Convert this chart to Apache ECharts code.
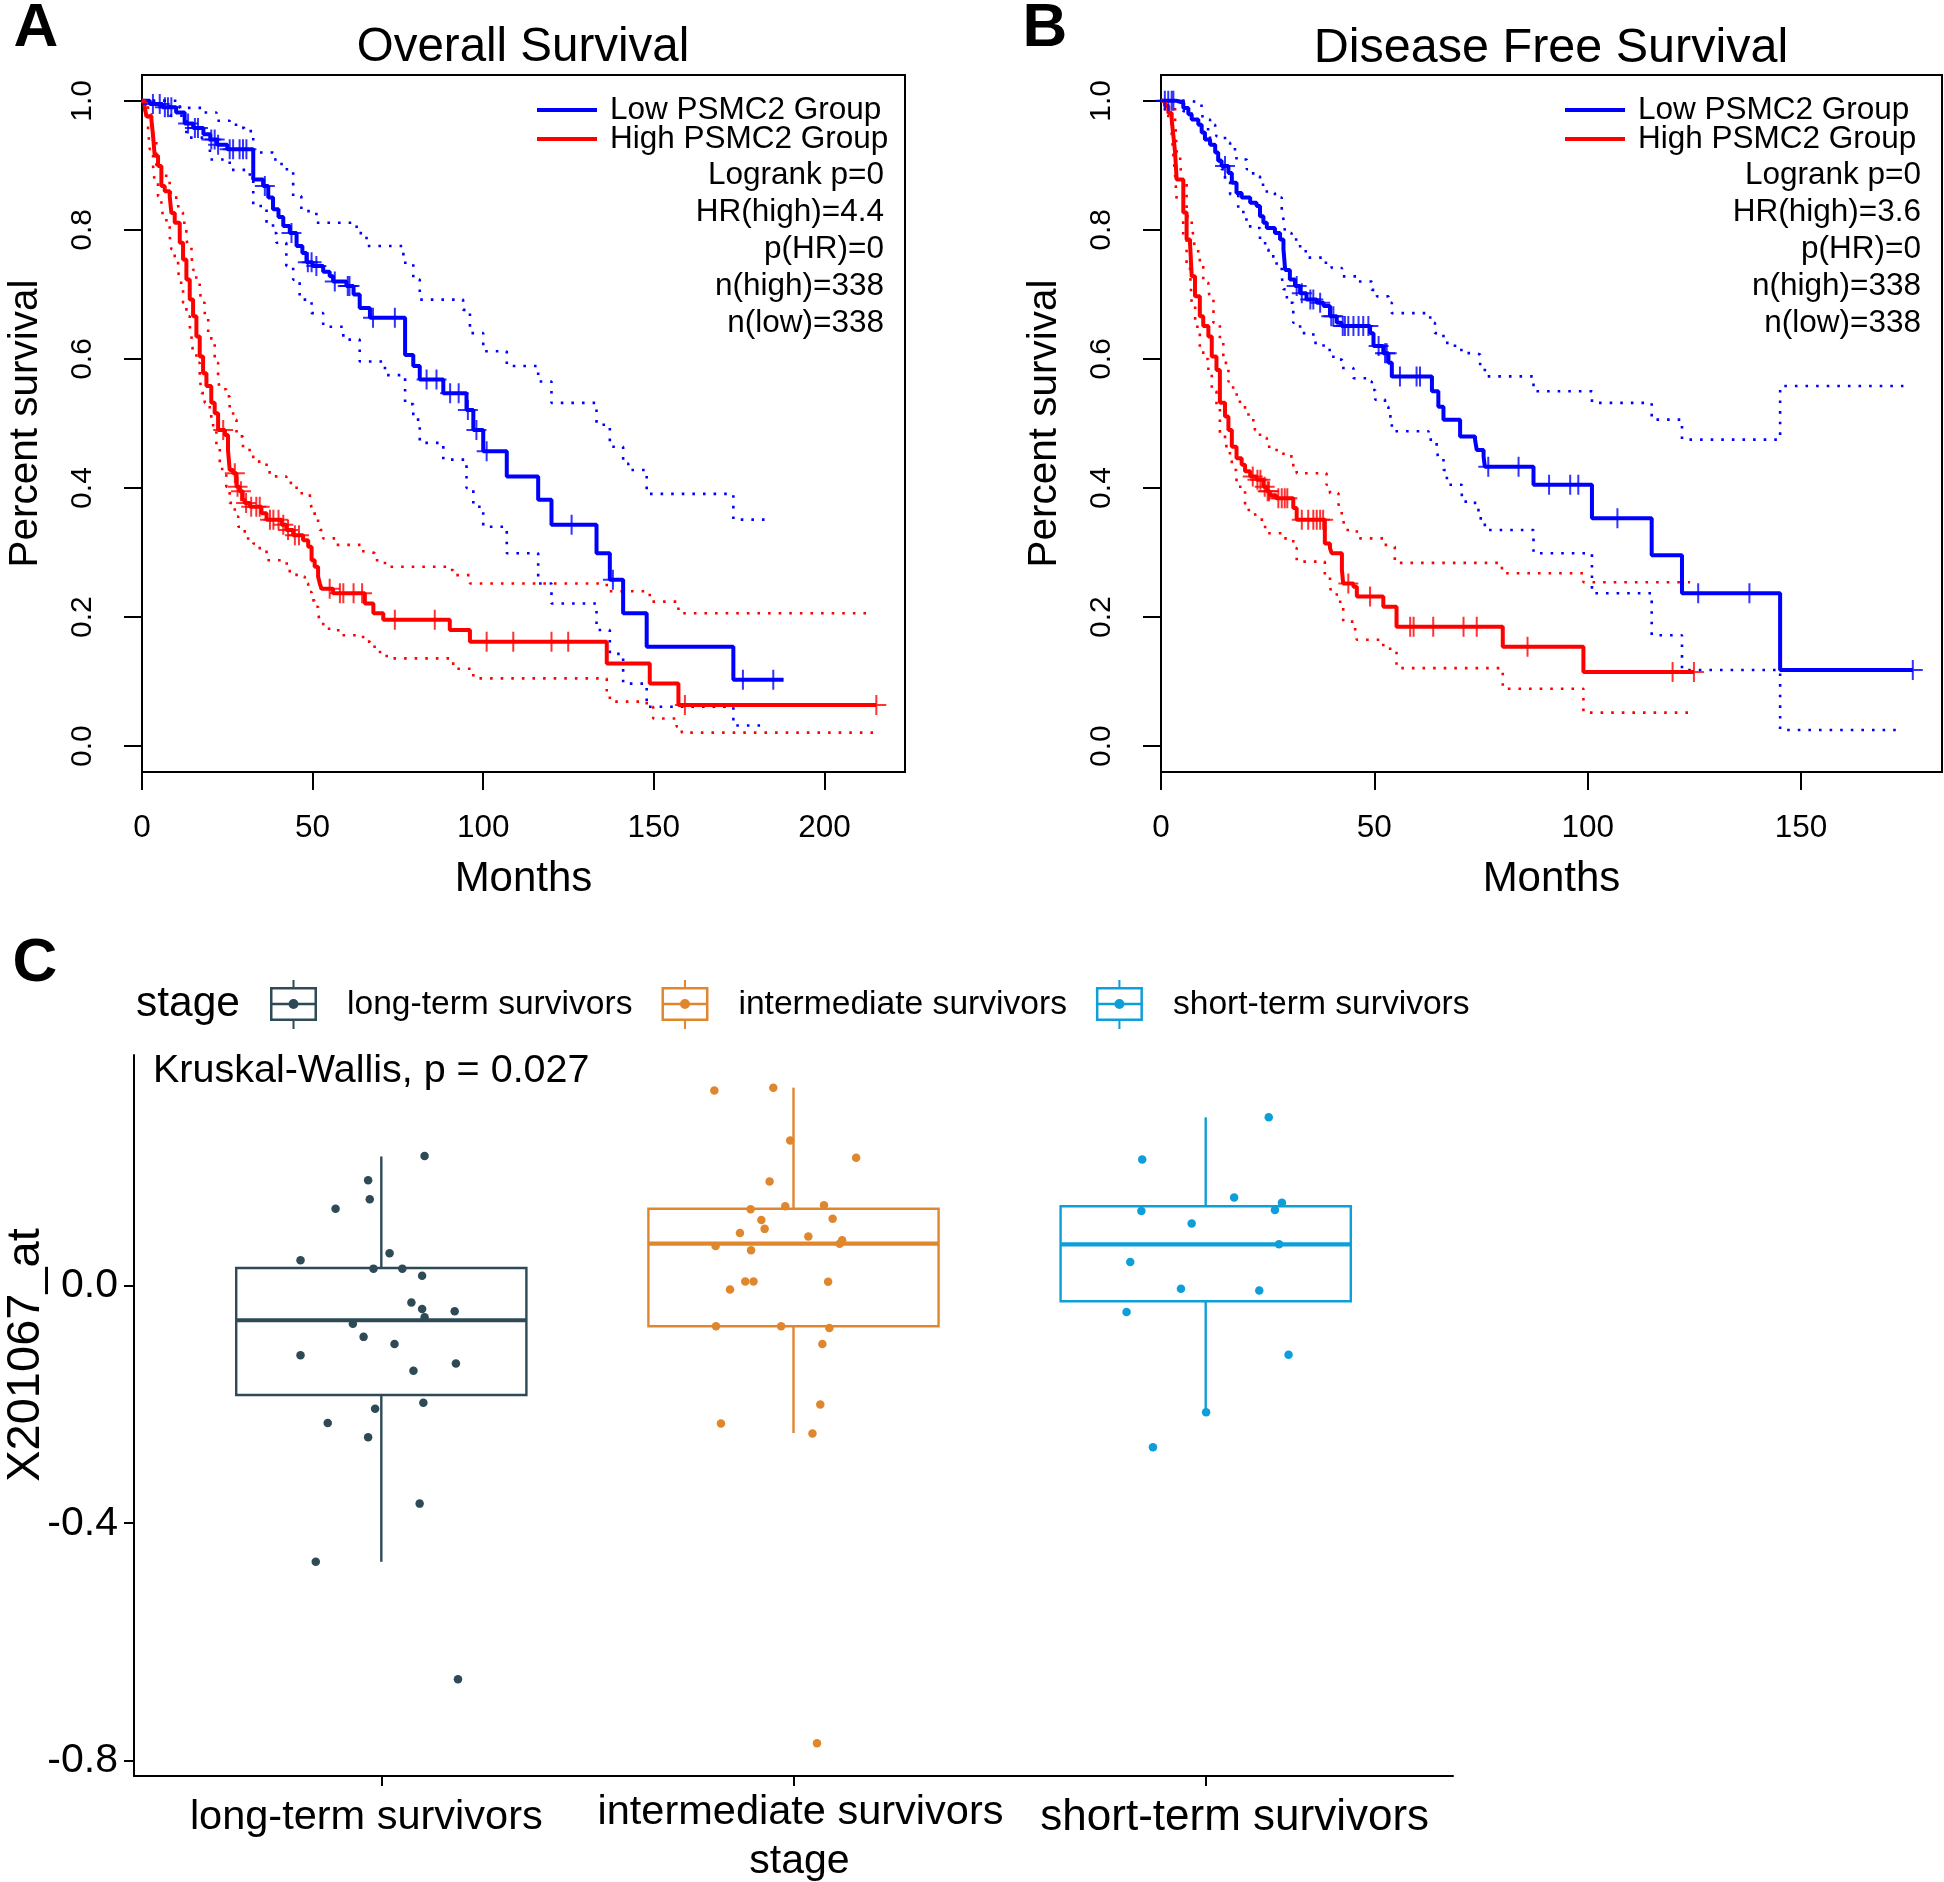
<!DOCTYPE html>
<html><head><meta charset="utf-8">
<script src="https://cdn.jsdelivr.net/npm/echarts@6/dist/echarts.min.js"></script>
<style>html,body{margin:0;padding:0;background:#fff}#c{width:1944px;height:1882px}</style>
</head><body><div id="c"></div>
<script>
// ---------------- Panel A: Overall Survival ----------------
const osLow = [[0,1],[2.3,0.995],[6,0.99],[10,0.982],[12.5,0.965],[15,0.958],[18,0.948],[20,0.94],[22,0.932],[25,0.925],[32.6,0.878],[35.5,0.868],[37,0.85],[38.4,0.832],[40,0.82],[41.4,0.806],[43.3,0.795],[45.3,0.775],[47,0.764],[48.2,0.75],[50,0.744],[53.1,0.735],[55,0.728],[56,0.72],[59.9,0.713],[62,0.70],[63.8,0.679],[66.8,0.664],[77.1,0.606],[79.5,0.589],[81.4,0.568],[88.3,0.547],[95.1,0.521],[97.1,0.49],[100,0.457],[106.9,0.418],[116.1,0.382],[120,0.343],[133.2,0.299],[137.1,0.258],[141,0.206],[147.9,0.154],[173.3,0.103],[188,0.103]];
const osLowCensored = [[3.2,0.995],[5.2,0.995],[6.7,0.99],[7.6,0.99],[8.6,0.99],[13.5,0.965],[15.5,0.958],[16.4,0.958],[20.3,0.94],[21.3,0.94],[22.3,0.932],[25.7,0.925],[26.7,0.925],[28.6,0.925],[29.6,0.925],[30.6,0.925],[36,0.868],[43.8,0.795],[48.6,0.75],[49.7,0.75],[51.1,0.744],[56.5,0.72],[60.3,0.713],[60.8,0.713],[67.7,0.664],[74.1,0.664],[83.4,0.568],[86.3,0.568],[90.3,0.547],[92.8,0.547],[95.5,0.521],[98,0.49],[101,0.457],[125.9,0.343],[138,0.258],[176.1,0.103],[185,0.103]];
const osLowUpper = [[0,1],[6.2,1],[11.1,0.989],[17.9,0.982],[21.8,0.969],[25.7,0.963],[28.6,0.958],[30,0.953],[32.6,0.92],[38.4,0.909],[40.9,0.894],[44.3,0.852],[46.7,0.829],[51.1,0.811],[62.9,0.795],[65.8,0.775],[76.6,0.749],[79.5,0.723],[81.4,0.692],[94.1,0.676],[96.1,0.64],[100,0.612],[106.9,0.589],[116.1,0.565],[120,0.532],[133.2,0.498],[137.1,0.464],[141,0.438],[142.5,0.428],[147.9,0.391],[173.3,0.351],[183,0.351]];
const osLowLower = [[0,1],[8.1,0.977],[13,0.943],[19.9,0.909],[25.7,0.893],[31.6,0.883],[32.6,0.837],[36.5,0.811],[38.4,0.795],[39.4,0.78],[42.3,0.744],[44.3,0.723],[46.2,0.692],[49.7,0.671],[53.1,0.65],[59,0.63],[63.8,0.596],[71.2,0.575],[77.1,0.53],[79.5,0.506],[81.4,0.47],[88.3,0.444],[95.1,0.40],[97.1,0.371],[100,0.34],[106.9,0.299],[116.1,0.252],[120,0.221],[133.2,0.18],[137.1,0.143],[141,0.097],[147.9,0.061],[173.3,0.032],[182,0.032]];
const osHigh = [[0,1],[0.8,0.99],[1.3,0.976],[2.75,0.971],[3.24,0.946],[3.72,0.915],[4.7,0.899],[5.68,0.868],[6.66,0.86],[8.12,0.852],[8.61,0.826],[9.59,0.811],[11.06,0.78],[12.03,0.754],[13.01,0.723],[13.99,0.692],[14.97,0.666],[15.94,0.635],[16.92,0.604],[17.9,0.578],[18.88,0.558],[20.3,0.532],[21.3,0.516],[22.3,0.49],[24.3,0.482],[25.2,0.459],[25.7,0.428],[26.7,0.423],[27.7,0.402],[28.6,0.395],[29.5,0.382],[30.1,0.377],[31.6,0.371],[35,0.361],[36.5,0.351],[40.9,0.343],[42.3,0.335],[44.3,0.327],[47.2,0.319],[48.7,0.309],[49.7,0.288],[50.6,0.278],[51.6,0.263],[52.1,0.252],[52.6,0.244],[56,0.237],[65.3,0.221],[67.8,0.206],[70.7,0.196],[90.2,0.18],[96.1,0.162],[136.2,0.128],[148.8,0.097],[157.2,0.064],[215.2,0.064]];
const osHighCensored = [[23.8,0.49],[27.2,0.423],[28,0.402],[29,0.395],[30.5,0.377],[32,0.371],[33.5,0.371],[34.5,0.371],[37.5,0.351],[38.5,0.351],[40,0.351],[41.4,0.343],[42.8,0.335],[44.8,0.327],[46,0.327],[55,0.244],[58,0.237],[59,0.237],[62,0.237],[64.5,0.237],[74.1,0.196],[85.8,0.196],[101,0.162],[108.8,0.162],[120,0.162],[124.9,0.162],[159.1,0.064],[215.2,0.064]];
const osHighUpper = [[0,1],[0.3,0.992],[1.75,0.979],[2.7,0.961],[3.2,0.94],[4.2,0.899],[5.7,0.888],[7.1,0.878],[8.1,0.858],[9.6,0.85],[10.6,0.837],[11.1,0.827],[12,0.811],[13,0.785],[13.5,0.775],[14.5,0.759],[15,0.738],[15.9,0.723],[16.9,0.708],[17.4,0.687],[18.4,0.666],[19.4,0.64],[20.3,0.625],[21.3,0.594],[22.3,0.568],[22.8,0.553],[24.7,0.542],[25.7,0.521],[26.7,0.506],[27.7,0.48],[29.6,0.459],[32.6,0.441],[35,0.436],[37.4,0.418],[42.3,0.408],[45.3,0.392],[49.2,0.382],[49.7,0.369],[50.6,0.356],[51.6,0.348],[52.1,0.335],[53.1,0.322],[57,0.312],[64.3,0.302],[66.8,0.299],[68.2,0.288],[71.2,0.278],[90.2,0.273],[91.2,0.265],[96.1,0.252],[136.2,0.24],[148.8,0.224],[157.2,0.206],[213.4,0.206]];
const osHighLower = [[0,1],[0.8,0.981],[1.77,0.956],[2.26,0.925],[3.24,0.899],[3.72,0.873],[4.7,0.852],[5.68,0.837],[6.17,0.821],[7.15,0.806],[8.12,0.79],[8.61,0.77],[9.59,0.754],[10.57,0.738],[11.06,0.718],[12.03,0.687],[13.01,0.666],[13.99,0.651],[14.48,0.635],[14.97,0.609],[15.94,0.594],[16.92,0.573],[17.41,0.547],[18.39,0.532],[19.85,0.511],[20.83,0.49],[21.8,0.464],[22.8,0.438],[23.5,0.425],[24.7,0.402],[25.7,0.377],[27.2,0.356],[28.2,0.34],[30.1,0.33],[31.1,0.319],[32.6,0.314],[34.5,0.304],[36.5,0.288],[41.4,0.283],[43.3,0.268],[45.3,0.263],[47.7,0.252],[48.7,0.239],[49.7,0.226],[50.6,0.216],[51.6,0.206],[52.1,0.193],[53.1,0.182],[57.5,0.172],[64.8,0.162],[66.8,0.154],[68.7,0.146],[71.7,0.136],[90.2,0.131],[91.2,0.12],[97.1,0.105],[136.2,0.082],[137.1,0.069],[147.9,0.061],[149.8,0.043],[156.7,0.03],[158.2,0.021],[214.3,0.021]];
const osTicksX = [0,50,100,150,200];
const osStats = ['Logrank p=0','HR(high)=4.4','p(HR)=0','n(high)=338','n(low)=338'];

// ---------------- Panel B: Disease Free Survival ----------------
const dfsLow = [[0,1],[3.67,0.997],[5.23,0.989],[6.41,0.979],[7.19,0.971],[8.75,0.963],[9.53,0.951],[10.3,0.94],[11.5,0.932],[12.7,0.92],[13.4,0.907],[14.2,0.899],[15.8,0.888],[16.6,0.873],[17.7,0.857],[18.9,0.85],[20.9,0.842],[22.4,0.837],[23.2,0.821],[24,0.811],[24.8,0.803],[26.7,0.795],[27.9,0.785],[28.7,0.77],[29.1,0.738],[30.2,0.723],[31.4,0.713],[32.6,0.702],[34.1,0.692],[36.5,0.687],[38.1,0.682],[39.6,0.666],[41.2,0.656],[42.3,0.651],[49,0.64],[49.8,0.62],[52.1,0.609],[53.3,0.594],[54.1,0.573],[63.5,0.55],[65,0.526],[66.2,0.506],[70.1,0.48],[73.6,0.475],[74,0.459],[75.6,0.449],[75.9,0.433],[87.3,0.405],[101,0.353],[115,0.296],[122.1,0.237],[145.1,0.118],[176.2,0.118]];
const dfsLowCensored = [[0.9,1],[1.7,1],[2.5,1],[2.9,1],[15,0.899],[31.8,0.713],[33,0.702],[35,0.692],[35.7,0.692],[37.3,0.687],[39.9,0.666],[40.4,0.666],[42.6,0.651],[43.1,0.651],[43.9,0.651],[45.1,0.651],[46.3,0.651],[47.4,0.651],[48.6,0.651],[51,0.62],[52.5,0.609],[52.9,0.609],[56,0.573],[59.9,0.573],[60.7,0.573],[76.7,0.433],[83.8,0.433],[90.95,0.405],[95.9,0.405],[97.8,0.405],[106.97,0.353],[125.9,0.237],[137.9,0.237],[176.2,0.118]];
const dfsLowUpper = [[0,1],[6.8,0.997],[9.5,0.982],[9.9,0.971],[11.5,0.963],[12.7,0.956],[13,0.945],[15,0.935],[16.2,0.925],[17.7,0.909],[20.1,0.894],[21.6,0.883],[23.2,0.87],[24.8,0.857],[26.7,0.85],[28.3,0.831],[28.7,0.816],[29.1,0.795],[30.6,0.785],[32.6,0.767],[34.5,0.757],[37.7,0.749],[40,0.741],[42.4,0.728],[45.9,0.72],[49.4,0.707],[50.6,0.697],[53.3,0.687],[54.1,0.671],[63.1,0.656],[64.2,0.64],[66.2,0.625],[68.9,0.614],[71.3,0.609],[73.9,0.607],[74.8,0.589],[75.9,0.573],[87.3,0.55],[101,0.532],[115,0.506],[122.1,0.475],[145.1,0.558],[174,0.558]];
const dfsLowLower = [[0,1],[5.2,0.984],[7.2,0.971],[9.5,0.956],[11.5,0.935],[12.3,0.92],[13.8,0.904],[14.2,0.894],[15,0.878],[16.2,0.855],[18.1,0.832],[19.3,0.816],[20.9,0.803],[23.2,0.785],[24.4,0.77],[25.2,0.759],[27.1,0.744],[28.3,0.728],[28.7,0.708],[29.5,0.687],[31,0.656],[32.6,0.64],[35.7,0.625],[38.1,0.614],[40.4,0.599],[42.4,0.586],[45.1,0.57],[48.2,0.565],[49.4,0.552],[50.2,0.537],[52.5,0.526],[53.3,0.511],[54.1,0.488],[62.7,0.475],[64.6,0.459],[65,0.446],[66.2,0.428],[67,0.405],[70.5,0.379],[73.6,0.369],[74.4,0.353],[75.9,0.335],[87.3,0.299],[101,0.237],[115,0.172],[122.1,0.118],[145.1,0.025],[173.6,0.025]];
const dfsHigh = [[0,1],[0.94,0.992],[1.72,0.981],[2.5,0.971],[2.9,0.946],[3.3,0.92],[3.67,0.878],[5.23,0.827],[6,0.785],[6.8,0.78],[7.2,0.728],[7.97,0.697],[9.1,0.666],[9.9,0.651],[11.1,0.635],[11.9,0.604],[13,0.583],[13.8,0.532],[15,0.511],[15.8,0.49],[16.6,0.464],[17.7,0.446],[18.9,0.436],[19.7,0.426],[20.9,0.418],[22.4,0.413],[24,0.402],[24.8,0.395],[25.5,0.389],[27,0.384],[31,0.369],[31.8,0.351],[38.4,0.314],[39.6,0.307],[40,0.299],[42.4,0.273],[42.7,0.252],[45.1,0.247],[45.9,0.232],[52.1,0.216],[55.2,0.185],[80.1,0.154],[99,0.115],[124.9,0.115]];
const dfsHighCensored = [[21.5,0.418],[22.6,0.413],[23.3,0.413],[24.3,0.402],[25,0.395],[25.3,0.395],[27.5,0.384],[28.3,0.384],[29,0.384],[29.6,0.384],[33,0.351],[34.5,0.351],[35.7,0.351],[36.5,0.351],[37.3,0.351],[38,0.351],[43.9,0.252],[49,0.232],[58.4,0.185],[59.2,0.185],[63.8,0.185],[70.9,0.185],[74,0.185],[85.9,0.154],[119.9,0.115],[124.9,0.115]];
const dfsHighUpper = [[0,1],[1.7,0.992],[3.3,0.971],[3.5,0.946],[3.7,0.92],[4.5,0.904],[4.8,0.878],[6,0.821],[7.2,0.806],[7.6,0.79],[8,0.767],[9.1,0.744],[9.9,0.718],[11.1,0.708],[11.5,0.692],[12.3,0.656],[13.8,0.63],[14.6,0.594],[15.8,0.565],[16.9,0.545],[18.5,0.525],[20.5,0.505],[22,0.49],[23.2,0.478],[24.8,0.464],[26.3,0.459],[28.7,0.449],[31,0.428],[31.8,0.423],[38.8,0.405],[39.6,0.392],[41.6,0.376],[41.9,0.361],[42.7,0.351],[43.1,0.335],[45.9,0.322],[52.1,0.312],[53.7,0.309],[54.8,0.284],[79.9,0.268],[99,0.254],[124,0.254]];
const dfsHighLower = [[0,1],[0.9,0.985],[1.7,0.965],[2.5,0.95],[2.9,0.915],[3.3,0.885],[3.7,0.845],[5.2,0.79],[6,0.745],[6.8,0.735],[7.2,0.685],[8,0.65],[9.1,0.615],[9.9,0.6],[11.1,0.58],[11.9,0.55],[13,0.528],[13.8,0.485],[15,0.465],[15.8,0.454],[16.6,0.438],[17,0.428],[17.7,0.402],[19.7,0.366],[22,0.361],[22.4,0.351],[24.4,0.33],[28.3,0.322],[31,0.307],[31.8,0.286],[38.4,0.263],[39.6,0.247],[40,0.237],[41.2,0.226],[42,0.219],[42.7,0.193],[45.5,0.179],[45.9,0.165],[52.1,0.151],[55.2,0.121],[80.1,0.089],[99,0.052],[124.8,0.052]];
const dfsTicksX = [0,50,100,150];
const dfsStats = ['Logrank p=0','HR(high)=3.6','p(HR)=0','n(high)=338','n(low)=338'];
const survTicksY = [0,0.2,0.4,0.6,0.8,1.0];

// ---------------- Panel C: boxplot by stage ----------------
const stages = ['long-term survivors','intermediate survivors','short-term survivors'];
const stageColors = ['#2D4A56','#E0872E','#0E9ED9'];
const boxLow  = [-0.465,-0.248,-0.213];
const boxQ1   = [-0.184,-0.068,-0.026];
const boxMed  = [-0.058, 0.071, 0.070];
const boxQ3   = [ 0.030, 0.130, 0.134];
const boxHigh = [ 0.218, 0.334, 0.284];
const ltJitter = [0.105,-0.032,-0.028,-0.111,0.020,-0.196,-0.019,0.051,0.099,0.073,0.099,0.178,0.105,-0.069,-0.043,0.032,-0.196,0.181,0.078,0.102,-0.015,-0.130,-0.032,0.093,-0.159,0.186];
const ltValue  = [0.219,0.178,0.146,0.130,0.055,0.043,0.029,0.029,0.017,-0.028,-0.039,-0.043,-0.053,-0.064,-0.086,-0.098,-0.117,-0.131,-0.143,-0.197,-0.207,-0.231,-0.255,-0.367,-0.465,-0.663];
const imJitter = [-0.192,-0.049,-0.008,0.152,-0.058,-0.104,-0.020,0.074,-0.078,0.095,-0.070,-0.130,0.036,0.118,0.112,-0.189,-0.103,-0.117,-0.097,0.084,-0.154,-0.188,-0.030,0.087,0.070,0.065,-0.176,0.046,0.057];
const imValue  = [0.329,0.334,0.245,0.216,0.176,0.129,0.134,0.136,0.111,0.113,0.096,0.089,0.083,0.077,0.071,0.067,0.060,0.0075,0.0075,0.0067,-0.006,-0.068,-0.068,-0.071,-0.098,-0.200,-0.232,-0.249,-0.771];
const stJitter = [0.153,-0.154,0.069,0.185,-0.156,0.168,-0.034,0.178,-0.183,-0.060,0.130,-0.192,0.201,0.001,-0.128];
const stValue  = [0.284,0.213,0.149,0.140,0.126,0.128,0.105,0.070,0.040,-0.005,-0.008,-0.044,-0.116,-0.213,-0.272];
const exprTicksY = [-0.8,-0.4,0.0];
const kwText = 'Kruskal-Wallis, p = 0.027';
const exprLabel = 'X201067_at';

// ---------------- build chart ----------------
const FONT = '"Liberation Sans", Arial, Helvetica, sans-serif';
const BLUE = '#0000FF', RED = '#FF0000';
const PLUS = 'path://M9,0H11V9H20V11H11V20H9V11H0V9H9Z';
const BOXICON = 'path://M0,7H47V9.5H0Z M0,38.5H47V41H0Z M0,7H2.5V41H0Z M44.5,7H47V41H44.5Z M0,22.75H47V25.25H0Z M22.5,0H24.5V7H22.5Z M22.5,41H24.5V49H22.5Z M18.5,24A5,5 0 1,1 28.5,24A5,5 0 1,1 18.5,24Z';

function kmSeries(name, main, upper, lower, cens, color, gi) {
  const base = {xAxisIndex: gi, yAxisIndex: gi};
  return [
    Object.assign({type:'line', name:name+' upper 95% CI', data:upper, step:'end', symbol:'none', color:color,
      lineStyle:{color:color, width:2.6, type:[2.6,8], cap:'butt'}, itemStyle:{color:color}, z:2}, base),
    Object.assign({type:'line', name:name+' lower 95% CI', data:lower, step:'end', symbol:'none', color:color,
      lineStyle:{color:color, width:2.6, type:[2.6,8], cap:'butt'}, itemStyle:{color:color}, z:2}, base),
    Object.assign({type:'line', name:name, data:main, step:'end', symbol:'none', color:color,
      lineStyle:{color:color, width:4}, itemStyle:{color:color}, z:4}, base),
    Object.assign({type:'scatter', name:name+' censored', data:cens, symbol:PLUS, symbolSize:20, color:color,
      itemStyle:{color:color}, z:5}, base)
  ];
}

function kmX(gi, max, ticks) {
  return {gridIndex:gi, type:'value', min:0, max:max, axisLine:{show:false, onZero:false},
    axisTick:{show:true, length:18, lineStyle:{color:'#000', width:2}, customValues:ticks},
    axisLabel:{customValues:ticks, fontSize:31.5, color:'#000', margin:40, fontFamily:FONT},
    splitLine:{show:false}, name:'Months', nameLocation:'middle', nameGap:86,
    nameTextStyle:{fontSize:42, color:'#000', fontFamily:FONT}};
}
function kmY(gi) {
  return {gridIndex:gi, type:'value', min:-0.04, max:1.04, axisLine:{show:false, onZero:false},
    axisTick:{show:true, length:18, lineStyle:{color:'#000', width:2}, customValues:survTicksY},
    axisLabel:{customValues:survTicksY, rotate:90, fontSize:30, color:'#000', margin:44, fontFamily:FONT,
      formatter:v => v.toFixed(1)},
    splitLine:{show:false}, name:'Percent survival', nameLocation:'middle', nameRotate:90, nameGap:96,
    nameTextStyle:{fontSize:40.5, color:'#000', fontFamily:FONT}};
}

function renderBox(params, api) {
  const x = api.value(0), hw = 0.352;
  const lt = api.coord([x - hw, api.value(4)]);
  const rb = api.coord([x + hw, api.value(2)]);
  const mL = api.coord([x - hw, api.value(3)]);
  const mR = api.coord([x + hw, api.value(3)]);
  const hi = api.coord([x, api.value(5)]);
  const lo = api.coord([x, api.value(1)]);
  const color = api.visual('color');
  return {type:'group', children:[
    {type:'line', shape:{x1:hi[0], y1:hi[1], x2:hi[0], y2:lt[1]}, style:{stroke:color, lineWidth:2.4}},
    {type:'line', shape:{x1:lo[0], y1:rb[1], x2:lo[0], y2:lo[1]}, style:{stroke:color, lineWidth:2.4}},
    {type:'rect', shape:{x:lt[0], y:lt[1], width:rb[0]-lt[0], height:rb[1]-lt[1]}, style:{fill:'#fff', stroke:color, lineWidth:2.4}},
    {type:'line', shape:{x1:mL[0], y1:mL[1], x2:mR[0], y2:mR[1]}, style:{stroke:color, lineWidth:4.2}}
  ]};
}

const jitters = [ltJitter, imJitter, stJitter];
const values = [ltValue, imValue, stValue];
const boxSeries = stages.map((s, i) => ({
  type:'custom', name:s, xAxisIndex:2, yAxisIndex:2, renderItem:renderBox, color:stageColors[i],
  itemStyle:{color:stageColors[i]}, encode:{x:0, y:[1,2,3,4,5]},
  data:[[i+1, boxLow[i], boxQ1[i], boxMed[i], boxQ3[i], boxHigh[i]]], z:2
}));
const pointSeries = stages.map((s, i) => ({
  type:'scatter', name:s, xAxisIndex:2, yAxisIndex:2, symbol:'circle', symbolSize:8.5, color:stageColors[i],
  itemStyle:{color:stageColors[i], opacity:1}, data: values[i].map((v, j) => [i + 1 + jitters[i][j], v]), z:3
}));

const kmLegend = (left) => ({data:['Low PSMC2 Group','High PSMC2 Group'], left:left, top:94, orient:'vertical',
  icon:'rect', itemWidth:60, itemHeight:4, itemGap:-3, selectedMode:false, padding:0,
  textStyle:{fontSize:31.5, color:'#000', fontFamily:FONT, padding:[0,0,0,8]}});

const GRIDBASE = {containLabel:false, outerBoundsMode:'none'};
const catRich = {
  l0:{fontSize:41.5, color:'#000', fontFamily:FONT, padding:[5,30,0,0]},
  l1:{fontSize:41.5, color:'#000', fontFamily:FONT, padding:[0,0,0,14]},
  l2:{fontSize:44, color:'#000', fontFamily:FONT, padding:[4,0,0,58]}
};

const option = {
  animation:false,
  backgroundColor:'#fff',
  textStyle:{fontFamily:FONT},
  title:[
    {text:'Overall Survival', left:523, top:24, textAlign:'center', padding:0,
      textStyle:{fontSize:47.5, fontWeight:'normal', color:'#000', fontFamily:FONT}},
    {text:'Disease Free Survival', left:1551, top:24, textAlign:'center', padding:0,
      textStyle:{fontSize:48.5, fontWeight:'normal', color:'#000', fontFamily:FONT}}
  ],
  legend:[
    kmLegend(537),
    kmLegend(1565),
    {data: stages.map((s, i) => ({name:s, icon:BOXICON, itemStyle:{color:stageColors[i]}})),
      left:270, top:980, orient:'horizontal', itemWidth:47, itemHeight:49, itemGap:29, selectedMode:false, padding:0,
      textStyle:{fontSize:33.6, color:'#000', fontFamily:FONT, padding:[0,0,0,25]}}
  ],
  grid:[
    Object.assign({left:142, top:75, width:763, height:697, show:true, borderColor:'#000', borderWidth:2, backgroundColor:'transparent'}, GRIDBASE),
    Object.assign({left:1161, top:75, width:781, height:697, show:true, borderColor:'#000', borderWidth:2, backgroundColor:'transparent'}, GRIDBASE),
    Object.assign({left:134, top:1055, width:1319, height:721, show:false}, GRIDBASE)
  ],
  xAxis:[
    kmX(0, 223.6, osTicksX),
    kmX(1, 183.04, dfsTicksX),
    {gridIndex:2, type:'value', min:0.4, max:3.6,
      axisLine:{show:true, onZero:false, lineStyle:{color:'#000', width:2}},
      axisTick:{show:true, length:10, lineStyle:{color:'#000', width:2}, customValues:[1,2,3]},
      axisLabel:{customValues:[1,2,3], fontSize:41.5, color:'#000', margin:16, fontFamily:FONT,
        formatter:v => { const k = Math.round(v) - 1; return '{l' + k + '|' + stages[k] + '}'; }, rich:catRich},
      splitLine:{show:false}, name:'stage', nameLocation:'middle', nameGap:60,
      nameTextStyle:{fontSize:41, color:'#000', fontFamily:FONT, padding:[0,0,0,12]}}
  ],
  yAxis:[
    kmY(0),
    kmY(1),
    {gridIndex:2, type:'value', min:-0.826, max:0.389,
      axisLine:{show:true, onZero:false, lineStyle:{color:'#000', width:2}},
      axisTick:{show:true, length:10, lineStyle:{color:'#000', width:2}, customValues:exprTicksY},
      axisLabel:{customValues:exprTicksY, fontSize:41, color:'#000', margin:16, fontFamily:FONT,
        formatter:v => v.toFixed(1)},
      splitLine:{show:false}}
  ],
  graphic:[
    {type:'text', x:36, y:29, style:{text:'A', font:'bold 62px '+FONT, fill:'#000', align:'center', verticalAlign:'middle'}},
    {type:'text', x:1045, y:29, style:{text:'B', font:'bold 62px '+FONT, fill:'#000', align:'center', verticalAlign:'middle'}},
    {type:'text', x:35, y:964, style:{text:'C', font:'bold 62px '+FONT, fill:'#000', align:'center', verticalAlign:'middle'}},
    {type:'text', x:884, y:157, style:{text:osStats.join('\n'), font:'31.5px '+FONT, fill:'#000', align:'right', verticalAlign:'top', lineHeight:36.9}},
    {type:'text', x:1921, y:157, style:{text:dfsStats.join('\n'), font:'31.5px '+FONT, fill:'#000', align:'right', verticalAlign:'top', lineHeight:36.9}},
    {type:'text', x:136, y:1004, style:{text:'stage', font:'42.5px '+FONT, fill:'#000', align:'left', verticalAlign:'middle'}},
    {type:'text', x:153, y:1071, style:{text:kwText, font:'39.5px '+FONT, fill:'#000', align:'left', verticalAlign:'middle'}},
    {type:'text', x:26, y:1355, rotation:Math.PI/2, style:{text:exprLabel, font:'47px '+FONT, fill:'#000', align:'center', verticalAlign:'middle'}}
  ],
  series: [].concat(
    kmSeries('Low PSMC2 Group', osLow, osLowUpper, osLowLower, osLowCensored, BLUE, 0),
    kmSeries('High PSMC2 Group', osHigh, osHighUpper, osHighLower, osHighCensored, RED, 0),
    kmSeries('Low PSMC2 Group', dfsLow, dfsLowUpper, dfsLowLower, dfsLowCensored, BLUE, 1),
    kmSeries('High PSMC2 Group', dfsHigh, dfsHighUpper, dfsHighLower, dfsHighCensored, RED, 1),
    boxSeries, pointSeries
  )
};

const chart = echarts.init(document.getElementById('c'));
chart.setOption(option);
</script></body></html>
